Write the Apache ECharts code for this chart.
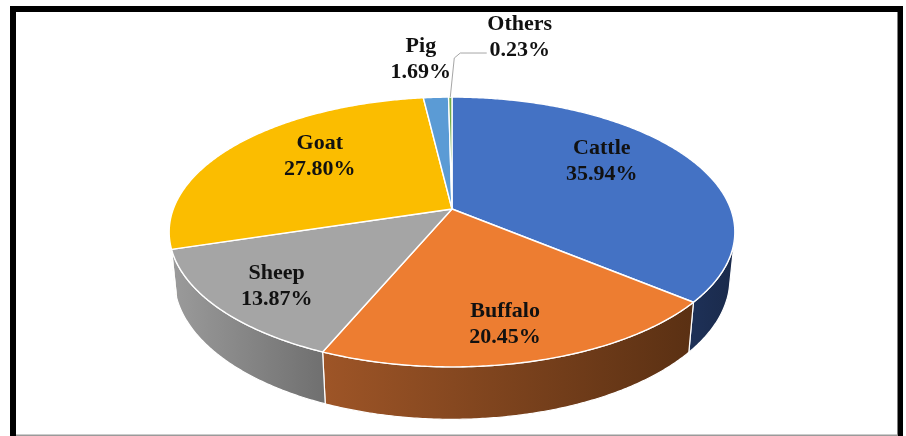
<!DOCTYPE html>
<html>
<head>
<meta charset="utf-8">
<script src="https://cdn.jsdelivr.net/npm/echarts@6/dist/echarts.min.js"></script>
<style>
  html, body { margin: 0; padding: 0; background: #ffffff; }
  #chart { width: 906px; height: 436px; }
</style>
</head>
<body>
<div id="chart"></div>
<script>
// Livestock share by species (percent), drawn clockwise from 12 o'clock
const categories = ['Cattle', 'Buffalo', 'Sheep', 'Goat', 'Pig', 'Others'];
const shares = [35.94, 20.45, 13.87, 27.80, 1.69, 0.23];

// Face colours and side-wall gradients
const topColors = ['#4472c4', '#ed7d31', '#a5a5a5', '#fbbd00', '#5b9bd5', '#70ad47'];
const sideColors = [
  ['#1e3158', '#1a2a4b'],
  ['#9e5527', '#5a3013'],
  ['#9b9b9b', '#6f6f6f'],
  ['#b58a00', '#8f6d00'],
  ['#3f6f9c', '#355f86'],
  ['#4f7a32', '#416629']
];

// Label placement: [angle shift from slice middle (deg), radius as fraction of pie radius]
const labelSpots = {
  Cattle: [-8.6, 0.69],
  Buffalo: [1.6, 0.785],
  Sheep: [-1.3, 0.785],
  Goat: [7.0, 0.665],
  Pig: [-1.7, 1.43],
  Others: [10.9, 1.72]
};

// Perspective camera looking down on a flat cylinder
const cam = {
  cx: 452, cy: 209,      // screen position of the pie centre
  F: 1444,               // focal length (px)
  D: 1,                  // camera distance
  R: 0.193,              // pie radius
  h: 0.037,              // pie thickness
  sinA: 0.47,
  cosA: Math.sqrt(1 - 0.47 * 0.47)
};

function project(u, v, z) {
  const depth = cam.D - v * cam.cosA - z * cam.sinA;
  return [cam.cx + cam.F * u / depth, cam.cy + cam.F * (v * cam.sinA - z * cam.cosA) / depth];
}
function rimPoint(deg, frac, z) {
  const a = deg * Math.PI / 180;
  return project(cam.R * frac * Math.sin(a), -cam.R * frac * Math.cos(a), z);
}
function arc(a0, a1, frac, z) {
  const pts = [];
  const n = Math.max(2, Math.ceil(Math.abs(a1 - a0) / 0.5));
  for (let i = 0; i <= n; i++) pts.push(rimPoint(a0 + (a1 - a0) * i / n, frac, z));
  return pts;
}

const total = shares.reduce((s, v) => s + v, 0);
const starts = [];
shares.reduce((acc, v) => { starts.push(acc); return acc + v; }, 0);

// The outer wall faces the camera where cos(angle) < -R / (D cosA)
const wallLimit = Math.acos(-cam.R / (cam.D * cam.cosA)) * 180 / Math.PI;
const wallFrom = wallLimit, wallTo = 360 - wallLimit;

const labelFont = 'bold 22px "Liberation Serif", "Times New Roman", serif';

function renderSlice(params, api) {
  const i = params.dataIndex;
  const value = api.value(0);
  const a0 = starts[i] / total * 360;
  const a1 = a0 + value / total * 360;
  const children = [];

  // outer wall (only the part turned towards the viewer)
  const s = Math.max(a0, wallFrom), e = Math.min(a1, wallTo);
  if (e > s) {
    const topEdge = arc(s, e, 1, 0);
    const bottomEdge = arc(e, s, 1, -cam.h);
    children.push({
      type: 'polygon',
      z2: 1,
      shape: { points: topEdge.concat(bottomEdge) },
      style: {
        fill: new echarts.graphic.LinearGradient(0, 0, 1, 0, [
          { offset: 0, color: sideColors[i][0] },
          { offset: 1, color: sideColors[i][1] }
        ]),
        stroke: '#ffffff',
        lineWidth: 1.2
      }
    });
  }

  // top face
  children.push({
    type: 'polygon',
    z2: 10 + i,
    shape: { points: [project(0, 0, 0)].concat(arc(a0, a1, 1, 0)) },
    style: { fill: topColors[i], stroke: '#ffffff', lineWidth: 1.4, lineJoin: 'round' }
  });

  // label
  const name = categories[i];
  const spot = labelSpots[name];
  const mid = (a0 + a1) / 2 + spot[0];
  const p = rimPoint(mid, spot[1], 0);
  children.push({
    type: 'text',
    z2: 30,
    x: p[0], y: p[1],
    style: {
      text: name + '\n' + value.toFixed(2) + '%',
      font: labelFont,
      fill: '#111111',
      align: 'center',
      verticalAlign: 'middle',
      lineHeight: 26
    }
  });

  // leader line for the thin outside slice
  if (name === 'Others') {
    const from = rimPoint((a0 + a1) / 2, 1, 0);
    const y1 = p[1] + 16;
    children.push({
      type: 'polyline',
      z2: 25,
      shape: { points: [from, [from[0] + 4, y1 + 5], [from[0] + 10, y1], [p[0] - 33, y1]] },
      style: { stroke: '#a6a6a6', lineWidth: 1, fill: null }
    });
  }

  return { type: 'group', children: children };
}

const chart = echarts.init(document.getElementById('chart'), null, { renderer: 'canvas' });
chart.setOption({
  backgroundColor: '#ffffff',
  animation: false,
  graphic: [
    { type: 'rect', shape: { x: 10, y: 6, width: 893, height: 6 }, style: { fill: '#000000' } },
    { type: 'rect', shape: { x: 10, y: 6, width: 6, height: 430 }, style: { fill: '#000000' } },
    { type: 'rect', shape: { x: 897.5, y: 6, width: 5.5, height: 430 }, style: { fill: '#000000' } },
    { type: 'rect', shape: { x: 16, y: 434.5, width: 882, height: 1.5 }, style: { fill: '#9a9a9a' } }
  ],
  series: [{
    type: 'custom',
    coordinateSystem: 'none',
    renderItem: renderSlice,
    data: shares.map((v, i) => ({ name: categories[i], value: [v] }))
  }]
});
</script>
</body>
</html>
